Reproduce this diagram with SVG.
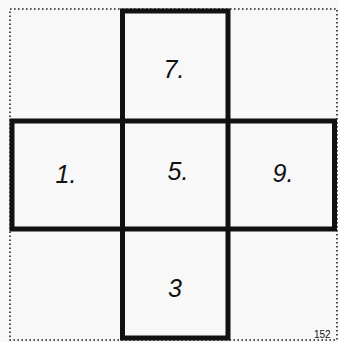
<svg xmlns="http://www.w3.org/2000/svg" width="339" height="342" viewBox="0 0 339 342">
<style>
.dot{fill:none;stroke:#222;stroke-width:1.6;stroke-dasharray:1.6 2.4}
.thick{fill:none;stroke:#111;stroke-width:5}
.num{font-family:"Liberation Sans",Arial,sans-serif;font-style:italic;font-size:25px;fill:#111;text-anchor:middle}
.pg{font-family:"Liberation Sans",Arial,sans-serif;font-size:10px;fill:#111}
</style>
<rect width="339" height="342" fill="#f8f8f8"/>
<rect class="dot" x="10" y="9" width="327" height="331"/>
<g id="connectors">
<rect class="thick" x="122.5" y="11" width="105.5" height="327"/>
<rect class="thick" x="12" y="121" width="322.5" height="108"/>
</g>
<g id="cell7"><text class="num" x="174" y="78">7.</text></g>
<g id="cell1"><text class="num" x="66" y="183">1.</text></g>
<g id="cell5"><text class="num" x="178" y="180">5.</text></g>
<g id="cell9"><text class="num" x="283" y="182">9.</text></g>
<g id="cell3"><text class="num" x="175" y="297">3</text></g>
<text class="pg" x="314" y="338">152</text>
</svg>
